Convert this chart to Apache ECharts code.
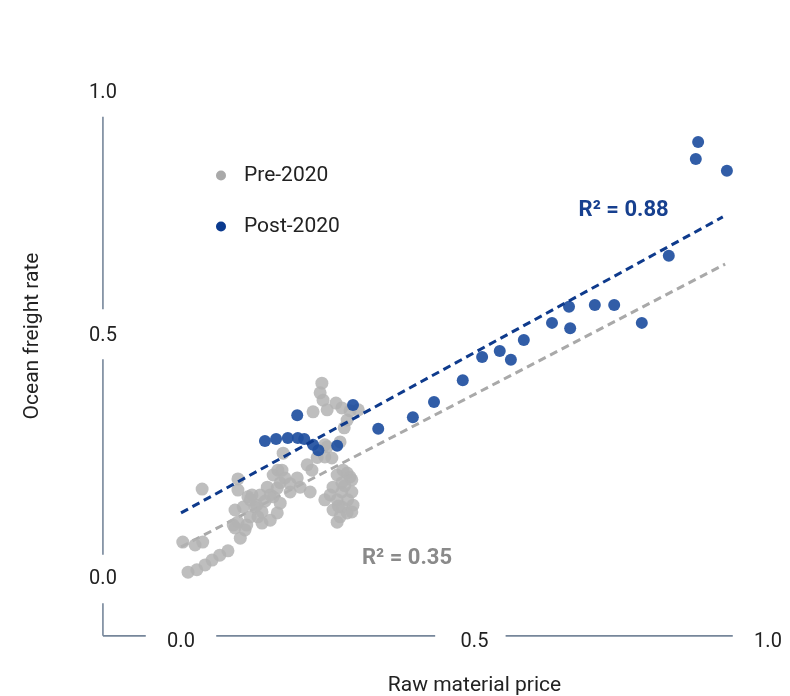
<!DOCTYPE html>
<html>
<head>
<meta charset="utf-8">
<script src="https://cdn.jsdelivr.net/npm/echarts@6/dist/echarts.min.js"></script>
<style>html,body{margin:0;padding:0;background:#fff}#c{width:790px;height:696px}</style>
</head>
<body>
<div id="c"></div>
<script>
const seriesNames = ['Pre-2020', 'Post-2020'];
const xTicks = [0, 0.5, 1.0];
const yTicks = [0, 0.5, 1.0];

const preData = [
  [0.003,0.076],[0.024,0.070],[0.037,0.076],[0.036,0.185],[0.012,0.014],[0.027,0.019],
  [0.041,0.029],[0.053,0.039],[0.066,0.049],[0.080,0.058],[0.097,0.206],[0.092,0.142],
  [0.089,0.111],[0.101,0.084],[0.112,0.111],[0.121,0.173],[0.126,0.148],[0.118,0.128],
  [0.131,0.128],[0.138,0.115],[0.152,0.121],[0.165,0.224],[0.169,0.198],[0.169,0.156],
  [0.157,0.169],[0.164,0.136],[0.097,0.117],[0.109,0.101],[0.092,0.105],[0.106,0.148],
  [0.114,0.169],[0.135,0.173],[0.147,0.189],[0.152,0.173],[0.129,0.152],[0.138,0.138],
  [0.164,0.187],[0.186,0.179],[0.203,0.189],[0.220,0.179],[0.198,0.208],[0.177,0.208],
  [0.157,0.214],[0.172,0.224],[0.174,0.259],[0.215,0.235],[0.223,0.224],[0.240,0.403],
  [0.237,0.383],[0.242,0.368],[0.225,0.344],[0.249,0.348],[0.264,0.362],[0.274,0.352],
  [0.288,0.346],[0.302,0.348],[0.283,0.327],[0.278,0.311],[0.271,0.282],[0.249,0.272],
  [0.245,0.251],[0.257,0.249],[0.266,0.214],[0.283,0.218],[0.291,0.204],[0.274,0.198],
  [0.259,0.189],[0.254,0.173],[0.274,0.179],[0.291,0.179],[0.245,0.163],[0.266,0.163],
  [0.284,0.163],[0.293,0.152],[0.274,0.148],[0.259,0.142],[0.283,0.136],[0.271,0.128],
  [0.266,0.117],[0.291,0.138],[0.288,0.210],[0.276,0.224],[0.118,0.163],[0.245,0.276],
  [0.097,0.183],[0.232,0.250],[0.279,0.192],[0.268,0.150],[0.143,0.160],[0.186,0.196]
];

const postData = [
  [0.143,0.284],[0.162,0.288],[0.182,0.290],[0.199,0.290],[0.210,0.288],[0.225,0.276],
  [0.234,0.265],[0.266,0.274],[0.198,0.337],[0.293,0.358],[0.336,0.309],[0.395,0.333],
  [0.431,0.364],[0.480,0.409],[0.513,0.457],[0.543,0.469],[0.562,0.451],[0.584,0.492],
  [0.632,0.527],[0.661,0.560],[0.663,0.516],[0.705,0.564],[0.738,0.564],[0.785,0.527],
  [0.831,0.665],[0.877,0.864],[0.881,0.899],[0.930,0.840]
];

const preTrend = [[0, 0.066], [0.927, 0.648]];
const postTrend = [[0, 0.136], [0.923, 0.745]];

const r2Labels = ['R² = 0.35', 'R² = 0.88'];

const FONT = 'Roboto, "Liberation Sans", sans-serif';
const AXIS_COLOR = '#76869a';

const chart = echarts.init(document.getElementById('c'), null, {renderer: 'canvas'});

const option = {
  backgroundColor: '#fff',
  animation: false,
  textStyle: {fontFamily: FONT},
  grid: {left: 181, top: 93, width: 587, height: 486, containLabel: false, outerBoundsMode: 'none'},
  legend: {
    orient: 'vertical',
    left: 211,
    top: 159,
    itemWidth: 24,
    itemHeight: 10,
    itemGap: 28,
    icon: 'circle',
    textStyle: {fontSize: 21, color: '#222', fontFamily: FONT, lineHeight: 23, padding: [0, 0, 0, 6]},
    data: [
      {name: seriesNames[0], itemStyle: {color: '#a9a9a9', opacity: 1}},
      {name: seriesNames[1], itemStyle: {color: '#0b3a8e', opacity: 1}}
    ]
  },
  xAxis: {
    type: 'value', min: 0, max: 1, interval: 0.5, offset: 57,
    axisLine: {show: false}, axisTick: {show: false}, splitLine: {show: false},
    axisLabel: {
      fontSize: 20, color: '#222', fontFamily: FONT, margin: 6, verticalAlign: 'middle',
      formatter: v => v.toFixed(1)
    },
    name: 'Raw material price', nameLocation: 'middle', nameGap: 39,
    nameTextStyle: {fontSize: 21, color: '#222', fontFamily: FONT}
  },
  yAxis: {
    type: 'value', min: 0, max: 1, interval: 0.5, offset: 78,
    axisLine: {show: false}, axisTick: {show: false}, splitLine: {show: false},
    axisLabel: {
      fontSize: 20, color: '#222', fontFamily: FONT, margin: 0, align: 'center', verticalAlign: 'middle',
      formatter: v => v.toFixed(1)
    },
    name: 'Ocean freight rate', nameLocation: 'middle', nameGap: 60, nameRotate: 90,
    nameTextStyle: {fontSize: 21, color: '#222', fontFamily: FONT}
  },
  series: [
    {
      type: 'line', data: preTrend, symbol: 'none', silent: true, z: 1,
      lineStyle: {color: '#a9a9a9', width: 3, type: [8, 5]}
    },
    {
      name: seriesNames[0], type: 'scatter', data: preData, symbolSize: 13, z: 2, clip: false,
      itemStyle: {color: '#b3b3b3', opacity: 0.85}
    },
    {
      name: seriesNames[1], type: 'scatter', data: postData, symbolSize: 12, z: 3, clip: false,
      itemStyle: {color: '#1f4f9f', opacity: 0.92}
    },
    {
      type: 'line', data: postTrend, symbol: 'none', silent: true, z: 4,
      lineStyle: {color: '#0e3a8c', width: 3, type: [8, 5]}
    }
  ]
};
chart.setOption(option);

// axis lines with gaps around tick labels (decoration, placed through the chart's scales)
const axisX = -0.133, axisY = -0.117;
const ySegs = [[-0.117, -0.05], [0.05, 0.452], [0.555, 0.951]];
const xSegs = [[-0.133, -0.06], [0.06, 0.433], [0.553, 0.94]];
const toPx = p => chart.convertToPixel({gridIndex: 0}, p);
const graphics = [];
ySegs.forEach(s => {
  const a = toPx([axisX, s[0]]), b = toPx([axisX, s[1]]);
  graphics.push({type: 'line', shape: {x1: a[0], y1: a[1], x2: b[0], y2: b[1]}, style: {stroke: AXIS_COLOR, lineWidth: 1.6}});
});
xSegs.forEach(s => {
  const a = toPx([s[0], axisY]), b = toPx([s[1], axisY]);
  graphics.push({type: 'line', shape: {x1: a[0], y1: a[1], x2: b[0], y2: b[1]}, style: {stroke: AXIS_COLOR, lineWidth: 1.6}});
});
const pPre = toPx([0.385, 0.043]);
const pPost = toPx([0.754, 0.759]);
graphics.push({type: 'text', x: pPre[0], y: pPre[1], style: {text: r2Labels[0], fill: '#8a8a8a', font: 'bold 22px ' + FONT, textAlign: 'center', textVerticalAlign: 'middle'}});
graphics.push({type: 'text', x: pPost[0], y: pPost[1], style: {text: r2Labels[1], fill: '#17408f', font: 'bold 22px ' + FONT, textAlign: 'center', textVerticalAlign: 'middle'}});
chart.setOption({graphic: graphics});
</script>
</body>
</html>
